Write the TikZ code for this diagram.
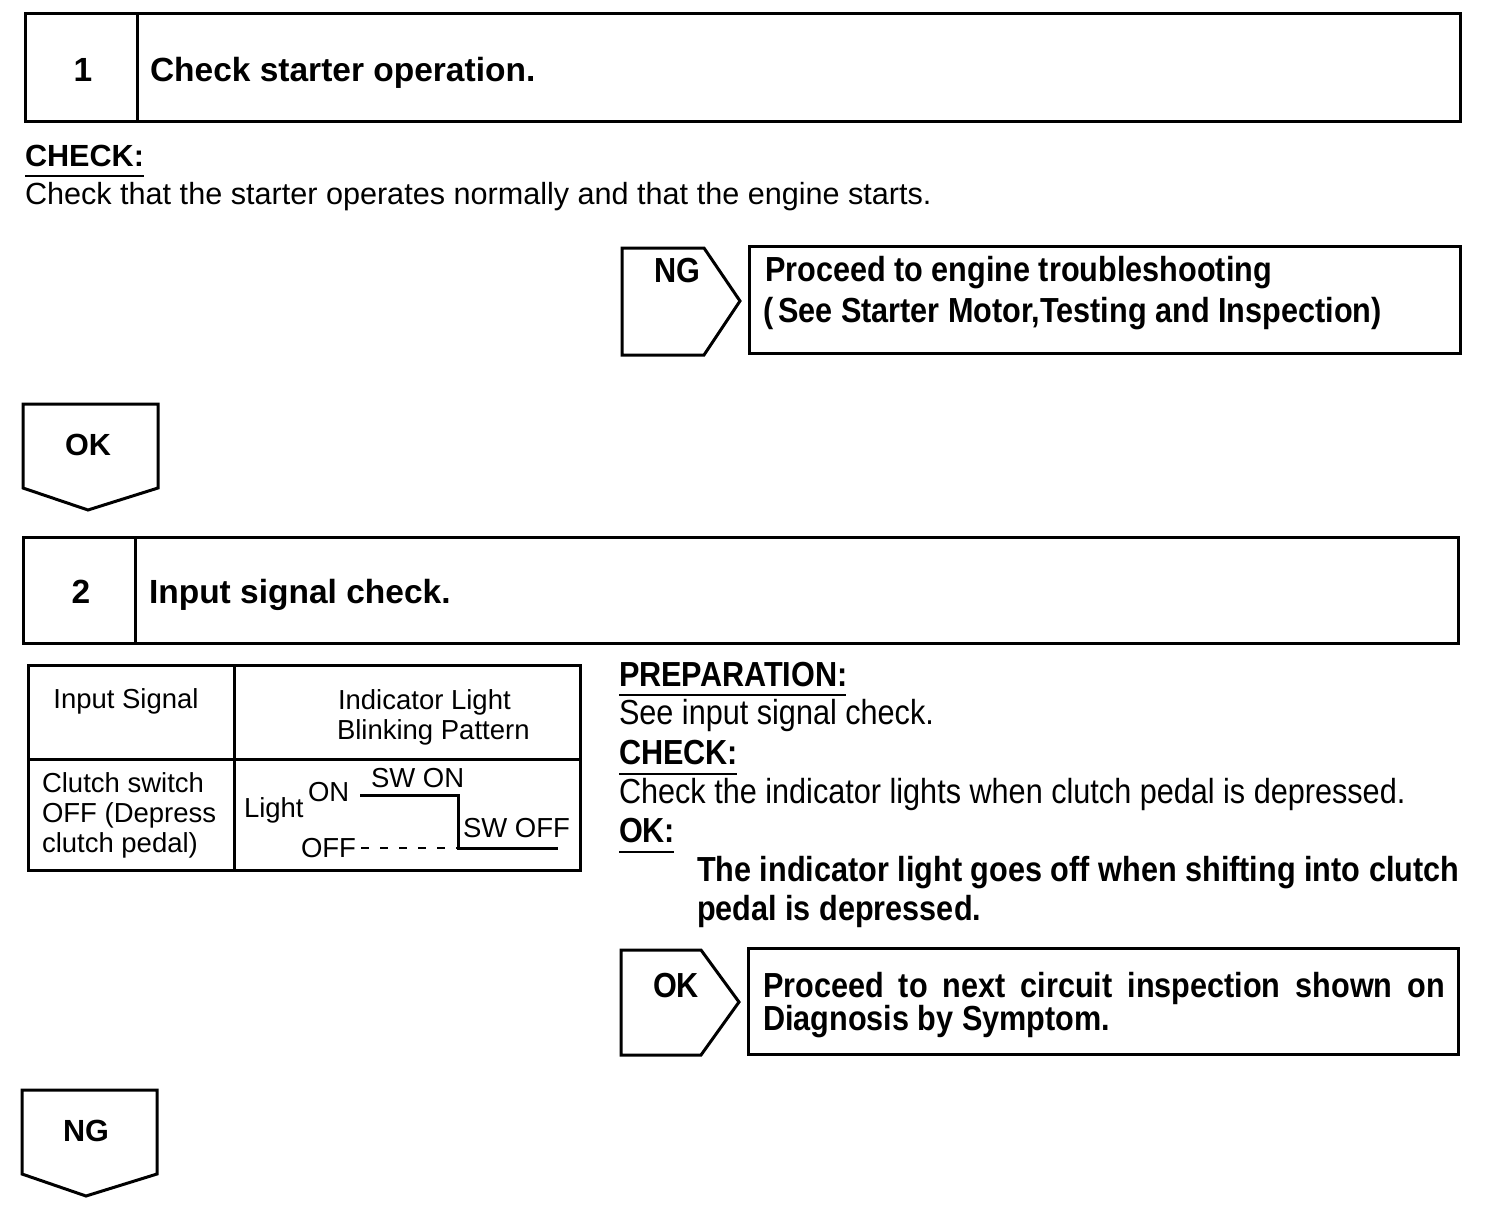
\documentclass[tikz,border=0pt]{standalone}
\usepackage{fontspec}
\setmainfont{Liberation Sans}
\newfontfamily\narrowfont[FakeStretch=0.88]{Liberation Sans}
\newcommand{\fsz}[1]{\fontsize{#1pt}{#1pt}\selectfont}
\begin{document}
\begin{tikzpicture}[x=1pt,y=-1pt,
  frame/.style={line width=3pt, line join=miter},
  uline/.style={line width=2.5pt},
  txt/.style={anchor=base west, inner sep=0pt, outer sep=0pt},
  ctxt/.style={anchor=base, inner sep=0pt, outer sep=0pt},
  head/.style={font=\bfseries\fsz{33.5}},
  body/.style={font=\fsz{30.6}},
  bodyb/.style={font=\bfseries\fsz{30.6}},
  nbody/.style={font=\narrowfont\fsz{34.8}},
  nbold/.style={font=\narrowfont\bfseries\fsz{34.8}},
  tab/.style={font=\fsz{27.5}},
  sig/.style={line width=3pt}]
\useasboundingbox[fill=white] (0,0) rectangle (1504,1220);

% ---------- Step 1 ----------
\draw[frame] (25,14) rectangle (1460,122);
\draw[frame] (137,14) -- (137,122);
\node[ctxt, head] (n1) at (83,82) {1};
\node[txt, head] (t1) at (150,82) {Check starter operation.};

\node[txt, bodyb] (chk1) at (25,166) {CHECK:};
\draw[uline] (25,176) -- (144,176);
\node[txt, body] (c1) at (25,204) {Check that the starter operates normally and that the engine starts.};

% NG branch
\draw[frame] (622,248) -- (704,248) -- (740,301) -- (704,355) -- (622,355) -- cycle;
\node[ctxt, nbold] (ng1) at (677,282) {NG};
\draw[frame] (749,246) rectangle (1460,353);
\node[txt, nbold] (r1a) at (765,281) {Proceed to engine troubleshooting};
\node[txt, nbold] (r1b) at (763,322) {(\hspace{5pt}See Starter Motor,Testing and Inspection)};

% OK down
\draw[frame] (23,404) -- (158,404) -- (158,488) -- (88,510) -- (23,488) -- cycle;
\node[ctxt, bodyb] (ok1) at (88,455) {OK};

% ---------- Step 2 ----------
\draw[frame] (23,537) rectangle (1458,643);
\draw[frame] (135,537) -- (135,643);
\node[ctxt, head] (n2) at (81,603) {2};
\node[txt, head] (t2) at (149,603) {Input signal check.};

% table
\draw[frame] (28,665) rectangle (580,870);
\draw[frame] (234,665) -- (234,870);
\draw[frame] (28,759) -- (580,759);
\node[ctxt, tab] (h1) at (126,708) {Input Signal};
\node[txt, tab] (h2a) at (338,709) {Indicator Light};
\node[txt, tab] (h2b) at (337,739) {Blinking Pattern};
\node[txt, tab] (s1) at (42,792) {Clutch switch};
\node[txt, tab] (s2) at (42,822) {OFF (Depress};
\node[txt, tab] (s3) at (42,852) {clutch pedal)};
\node[txt, tab] (lt) at (244,817) {Light};
\node[txt, tab] (on) at (308,801) {ON};
\node[txt, tab] (swon) at (371,787) {SW ON};
\node[txt, tab] (swoff) at (463,837) {SW OFF};
\node[txt, tab] (off) at (301,857) {OFF};
\coordinate (p1) at (360,795);
\coordinate (p2) at (458,795);
\coordinate (p3) at (458,848);
\coordinate (p4) at (558,848);
\coordinate (d1) at (361,848);
\draw[sig] (p1) -- (p2) -- (p3) -- (p4);
\draw[line width=2.5pt, dash pattern=on 8pt off 11pt] (d1) -- (p3);

% right text
\node[txt, nbold] (prep) at (619,686) {PREPARATION:};
\draw[uline] (619,695) -- (846,695);
\node[txt, nbody] (prept) at (619,724) {See input signal check.};
\node[txt, nbold] (chk2) at (619,764) {CHECK:};
\draw[uline] (619,774) -- (737,774);
\node[txt, nbody] (chk2t) at (619,803) {Check the indicator lights when clutch pedal is depressed.};
\node[txt, nbold] (ok2) at (619,842) {OK:};
\draw[uline] (619,852) -- (674,852);
\node[txt, nbold] (ok2a) at (697,881) {The indicator light goes off when shifting into clutch};
\node[txt, nbold] (ok2b) at (697,920) {pedal is depressed.};

% OK branch
\draw[frame] (621,950) -- (701,950) -- (739,1002) -- (701,1055) -- (621,1055) -- cycle;
\node[ctxt, nbold] (okb) at (676,997) {OK};
\draw[frame] (748,948) rectangle (1458,1054);
\node[txt, nbold] (r2a) at (763,997) {\makebox[682pt][s]{Proceed to next circuit inspection shown on}};
\node[txt, nbold] (r2b) at (763,1030) {Diagnosis by Symptom.};

% NG down
\draw[frame] (22,1090) -- (157,1090) -- (157,1174) -- (86,1196) -- (22,1174) -- cycle;
\node[ctxt, bodyb] (ng2) at (86,1141) {NG};
\end{tikzpicture}
\end{document}
